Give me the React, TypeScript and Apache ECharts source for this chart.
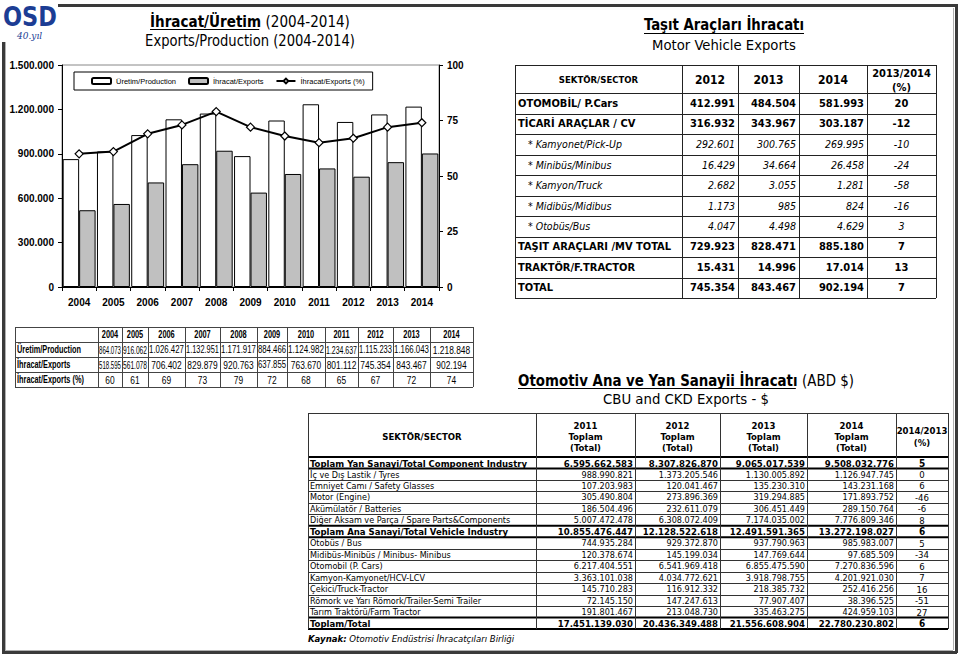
import React, { useEffect, useRef } from 'react';
import * as echarts from 'echarts';

// ---------- DATA ----------
const years = ['2004', '2005', '2006', '2007', '2008', '2009', '2010', '2011', '2012', '2013', '2014'];
const production = [864073, 916062, 1026427, 1132951, 1171917, 884466, 1124982, 1234637, 1115233, 1166043, 1218848];
const exportsVal = [518595, 561078, 706402, 829879, 920763, 637855, 763670, 801112, 745354, 843467, 902194];
const exportShare = [60, 61, 69, 73, 79, 72, 68, 65, 67, 72, 74];
const seriesNames = ['Üretim/Production', 'İhracat/Exports', 'İhracat/Exports (%)'];

const mvHeader = ['SEKTÖR/SECTOR', '2012', '2013', '2014', '2013/2014\n(%)'];
const mvLabels = ['OTOMOBİL/ P.Cars', 'TİCARİ ARAÇLAR / CV', '* Kamyonet/Pick-Up', '* Minibüs/Minibus', '* Kamyon/Truck', '* Midibüs/Midibus', '* Otobüs/Bus', 'TAŞIT ARAÇLARI /MV TOTAL', 'TRAKTÖR/F.TRACTOR', 'TOTAL'];
const mv2012 = [412991, 316932, 292601, 16429, 2682, 1173, 4047, 729923, 15431, 745354];
const mv2013 = [484504, 343967, 300765, 34664, 3055, 985, 4498, 828471, 14996, 843467];
const mv2014 = [581993, 303187, 269995, 26458, 1281, 824, 4629, 885180, 17014, 902194];
const mvChange = [20, -12, -10, -24, -58, -16, 3, 7, 13, 7];
const mvItalicRows = [2, 3, 4, 5, 6];

const cbuHeader = ['SEKTÖR/SECTOR', '2011\nToplam\n(Total)', '2012\nToplam\n(Total)', '2013\nToplam\n(Total)', '2014\nToplam\n(Total)', '2014/2013\n(%)'];
const cbuLabels = ['Toplam Yan Sanayi/Total Component Industry', 'İç ve Dış Lastik / Tyres', 'Emniyet Camı / Safety Glasses', 'Motor (Engine)', 'Akümülatör / Batteries', 'Diğer Aksam ve Parça / Spare Parts&Components', 'Toplam Ana Sanayi/Total Vehicle Industry', 'Otobüs / Bus', 'Midibüs-Minibüs / Minibus- Minibus', 'Otomobil (P. Cars)', 'Kamyon-Kamyonet/HCV-LCV', 'Çekici/Truck-Tractor', 'Römork ve Yarı Römork/Trailer-Semi Trailer', 'Tarım Traktörü/Farm Tractor', 'Toplam/Total'];
const cbu2011 = [6595662583, 988990821, 107203983, 305490804, 186504496, 5007472478, 10855476447, 744935284, 120378674, 6217404551, 3363101038, 145710283, 72145150, 191801467, 17451139030];
const cbu2012 = [8307826870, 1373205546, 120041467, 273896369, 232611079, 6308072409, 12128522618, 929372870, 145199034, 6541969418, 4034772621, 116912332, 147247613, 213048730, 20436349488];
const cbu2013 = [9065017539, 1130005892, 135230310, 319294885, 306451449, 7174035002, 12491591365, 937790963, 147769644, 6855475590, 3918798755, 218385732, 77907407, 335463275, 21556608904];
const cbu2014 = [9508032776, 1126947745, 143231168, 171893752, 289150764, 7776809346, 13272198027, 985983007, 97685509, 7270836596, 4201921030, 252416256, 38396525, 424959103, 22780230802];
const cbuChange = [5, 0, 6, -46, -6, 8, 6, 5, -34, 6, 7, 16, -51, 27, 6];
const cbuBoldRows = [0, 6, 14];

// ---------- HELPERS ----------
const SANS = "'DejaVu Sans Condensed', 'DejaVu Sans', sans-serif";
const ARIAL = "'Liberation Sans', Arial, sans-serif";

function fmt(n: number): string {
  const s = Math.abs(n).toString().replace(/\B(?=(\d{3})+(?!\d))/g, '.');
  return n < 0 ? '-' + s : s;
}

let mctx: any = null;
function measure(t: string, size: number, weight = 'normal', family = SANS, italic = false): number {
  if (!mctx) mctx = document.createElement('canvas').getContext('2d');
  mctx.font = `${italic ? 'italic ' : ''}${weight} ${size}px ${family}`;
  return mctx.measureText(t).width;
}

function T(t: string, x: number, y: number, size: number, o: any = {}) {
  const weight = o.weight || 'normal';
  const family = o.family || SANS;
  const align = o.align || 'left';
  return {
    type: 'text', silent: true, x, y, scaleX: o.sx || 1, scaleY: 1, z: 10,
    style: {
      text: t, fontSize: size, fontWeight: weight, fontFamily: family,
      fontStyle: o.italic ? 'italic' : 'normal', fill: o.color || '#000',
      align, verticalAlign: 'middle', textAlign: align, textVerticalAlign: 'middle',
    },
  };
}

function buildGraphics() {
  const g: any[] = [];
  const L = (x1: number, y1: number, x2: number, y2: number, w = 1, c = '#333') => {
    if (y1 === y2 && w % 2 === 1) { y1 = Math.round(y1) + 0.5; y2 = y1; }
    if (x1 === x2 && w % 2 === 1) { x1 = Math.round(x1) + 0.5; x2 = x1; }
    g.push({ type: 'line', silent: true, z: 9, shape: { x1, y1, x2, y2 }, style: { stroke: c, lineWidth: w } });
  };

  // frame
  L(58, 5, 957, 5, 3, '#3a3a3a');
  L(955.5, 4, 955.5, 653, 3, '#3a3a3a');
  L(2, 652, 957, 652, 3, '#3a3a3a');
  L(2.5, 42, 2.5, 653, 3, '#3a3a3a');
  L(5, 42, 5, 650, 1, '#b0b0b0');
  L(5, 650, 953, 650, 1, '#b0b0b0');
  L(953, 8, 953, 650, 1, '#b0b0b0');

  // logo
  const LOGOF = "'DejaVu Sans', sans-serif";
  const osdW = measure('OSD', 27, 'bold', LOGOF);
  g.push(T('OSD', 3, 17, 27, { weight: 'bold', family: LOGOF, color: '#1c3d94', sx: 54 / osdW }));
  g.push(T('40.yıl', 17, 36, 9, { italic: true, family: "'DejaVu Serif', serif", color: '#1c3d94' }));

  // composite title helper: bold underlined part + normal part, centered
  const title = (bold: string, rest: string, cx: number, y: number, size: number, target: number, uy: number) => {
    const wb = measure(bold, size, 'bold');
    const wr = rest ? measure(rest, size) : 0;
    const s = target / (wb + wr);
    const x0 = cx - target / 2;
    g.push(T(bold, x0, y, size, { weight: 'bold', sx: s }));
    if (rest) g.push(T(rest, x0 + wb * s, y, size, { sx: s }));
    L(x0, uy, x0 + wb * s - (rest ? 2 : 0), uy, 1, '#000');
  };
  const plain = (t: string, cx: number, y: number, size: number, target: number) => {
    const w = measure(t, size);
    g.push(T(t, cx, y, size, { align: 'center', sx: target / w }));
  };

  title('İhracat/Üretim', ' (2004-2014)', 250, 22, 15, 200, 29);
  plain('Exports/Production (2004-2014)', 250, 40, 15, 210);
  title('Taşıt Araçları İhracatı', '', 724, 25, 15, 160, 33);
  plain('Motor Vehicle Exports', 724, 45, 14, 144);
  title('Otomotiv Ana ve Yan Sanayii İhracatı', ' (ABD $)', 686, 381, 15, 336, 388);
  plain('CBU and CKD Exports - $', 686, 399, 14, 166);

  // ---- left data table ----
  const lc = [15, 98, 122, 148, 185, 220, 257, 287, 325, 358, 393, 430, 473];
  const lr = [327, 342, 357, 372, 387];
  lr.forEach((r) => L(lc[0], r, lc[lc.length - 1], r, 1, '#444'));
  lc.forEach((c) => L(c, lr[0], c, lr[lr.length - 1], 1, '#444'));
  const ySc = 16.5 / measure('2004', 10.5, 'bold', ARIAL);
  years.forEach((yr, i) => {
    g.push(T(yr, (lc[i + 1] + lc[i + 2]) / 2, (lr[0] + lr[1]) / 2 + 0.5, 10.5, { weight: 'bold', family: ARIAL, align: 'center', sx: ySc }));
  });
  const labSc = 67 / measure('İhracat/Exports (%)', 10.5, 'bold', ARIAL);
  const tRows = [production.map(fmt), exportsVal.map(fmt), exportShare.map(String)];
  seriesNames.forEach((lab, r) => {
    const cy = (lr[r + 1] + lr[r + 2]) / 2 + 0.5;
    g.push(T(lab, 17, cy, 10.5, { weight: 'bold', family: ARIAL, sx: labSc }));
    tRows[r].forEach((v, i) => {
      const w = lc[i + 2] - lc[i + 1];
      const nw = measure(v, 10.5, 'normal', ARIAL);
      const s = Math.min(0.8, (w - 2) / nw);
      g.push(T(v, (lc[i + 1] + lc[i + 2]) / 2, cy, 10.5, { family: ARIAL, align: 'center', sx: s }));
    });
  });

  // ---- motor vehicle table ----
  const rc = [515, 682, 738, 799, 867, 936];
  const rr = [65, 93];
  for (let i = 0; i < mvLabels.length; i++) rr.push(93 + (298 - 93) * (i + 1) / mvLabels.length);
  rr.forEach((r) => L(rc[0], r, rc[5], r, 1, '#222'));
  rc.forEach((c) => L(c, rr[0], c, rr[rr.length - 1], 1, '#222'));
  mvHeader.forEach((h, i) => {
    const cx = (rc[i] + rc[i + 1]) / 2;
    if (i === 0) g.push(T(h, cx, 79, 9.5, { weight: 'bold', align: 'center' }));
    else if (i < 4) g.push(T(h, cx, 79.5, 12, { weight: 'bold', align: 'center' }));
    else {
      const p = h.split('\n');
      g.push(T(p[0], cx, 73, 11, { weight: 'bold', align: 'center' }));
      g.push(T(p[1], cx, 87, 11, { weight: 'bold', align: 'center' }));
    }
  });
  mvLabels.forEach((lab, i) => {
    const cy = (rr[i + 1] + rr[i + 2]) / 2;
    const it = mvItalicRows.indexOf(i) >= 0;
    const o = it ? { italic: true } : { weight: 'bold' };
    const sz = it ? 10.5 : 11;
    g.push(T(lab, it ? rc[0] + 13 : rc[0] + 3, cy, sz, o));
    [mv2012[i], mv2013[i], mv2014[i]].forEach((v, k) => {
      g.push(T(fmt(v), rc[k + 2] - 3, cy, sz, { ...o, align: 'right' }));
    });
    g.push(T(String(mvChange[i]), (rc[4] + rc[5]) / 2, cy, sz, { ...o, align: 'center' }));
  });

  // ---- CBU/CKD table ----
  const bc = [308, 536, 635, 720, 807, 896, 948];
  const br = [413, 457];
  for (let i = 0; i < cbuLabels.length; i++) br.push(457 + (629 - 457) * (i + 1) / cbuLabels.length);
  br.forEach((r, i) => {
    const heavy = cbuBoldRows.some((b) => i === b + 1 || i === b + 2);
    L(bc[0], r, bc[6], r, heavy ? 2 : 1, heavy ? '#000' : '#333');
  });
  bc.forEach((c) => L(c, br[0], c, br[br.length - 1], 1, '#333'));
  cbuHeader.forEach((h, i) => {
    const cx = (bc[i] + bc[i + 1]) / 2;
    const p = h.split('\n');
    if (p.length === 1) g.push(T(h, cx, 436, 9.5, { weight: 'bold', align: 'center' }));
    else if (p.length === 3) p.forEach((s, k) => g.push(T(s, cx, 425 + k * 11, 9.5, { weight: 'bold', align: 'center' })));
    else p.forEach((s, k) => g.push(T(s, cx, 430 + k * 12, 9.5, { weight: 'bold', align: 'center' })));
  });
  cbuLabels.forEach((lab, i) => {
    const cy = (br[i + 1] + br[i + 2]) / 2 + 0.3;
    const b = cbuBoldRows.indexOf(i) >= 0;
    const o: any = b ? { weight: 'bold' } : {};
    const sz = b ? 9.5 : 9;
    g.push(T(lab, bc[0] + 2, cy, sz, o));
    [cbu2011[i], cbu2012[i], cbu2013[i], cbu2014[i]].forEach((v, k) => {
      g.push(T(fmt(v), bc[k + 2] - 2, cy, sz, { ...o, align: 'right' }));
    });
    g.push(T(String(cbuChange[i]), (bc[5] + bc[6]) / 2, cy, b ? 10 : 9.5, { ...o, align: 'center' }));
  });
  const kw = measure('Kaynak:', 9.5, 'bold', SANS, true);
  g.push(T('Kaynak:', 308, 638, 9.5, { weight: 'bold', italic: true }));
  g.push(T(' Otomotiv Endüstrisi İhracatçıları Birliği', 308 + kw, 638, 9.5, { italic: true }));

  return g;
}

export default function App() {
  const ref = useRef<HTMLDivElement>(null);
  useEffect(() => {
    if (!ref.current) return;
    const chart = echarts.init(ref.current, undefined, { renderer: 'svg' });
    const axisLab = { fontFamily: ARIAL, fontWeight: 'bold', fontSize: 10, color: '#000' };
    const option: any = {
      animation: false,
      backgroundColor: '#fff',
      textStyle: { fontFamily: SANS },
      legend: {
        left: 74, top: 72, padding: [5, 8, 5, 17], itemGap: 12, itemWidth: 19, itemHeight: 6,
        backgroundColor: '#fff', borderColor: '#000', borderWidth: 1,
        textStyle: { fontFamily: ARIAL, fontSize: 7.5, color: '#000' },
        data: seriesNames,
        selectedMode: false,
      },
      grid: { left: 62, top: 65, width: 377, height: 222, show: true, borderColor: '#888', borderWidth: 1, backgroundColor: 'transparent' },
      xAxis: {
        type: 'category', data: years,
        axisLine: { lineStyle: { color: '#000', width: 1 } },
        axisTick: { show: true, length: 4, lineStyle: { color: '#000' } },
        axisLabel: { ...axisLab, margin: 10, interval: 0 },
      },
      yAxis: [
        {
          type: 'value', min: 0, max: 1500000, interval: 300000,
          axisLine: { show: true, lineStyle: { color: '#000' } },
          axisTick: { show: true, length: 4, lineStyle: { color: '#000' } },
          splitLine: { show: false },
          axisLabel: { ...axisLab, margin: 8, formatter: (v: number) => fmt(v) },
        },
        {
          type: 'value', min: 0, max: 100, interval: 25, position: 'right',
          axisLine: { show: true, lineStyle: { color: '#000' } },
          axisTick: { show: true, length: 4, lineStyle: { color: '#000' } },
          splitLine: { show: false },
          axisLabel: { ...axisLab, margin: 8 },
        },
      ],
      series: [
        {
          name: seriesNames[0], type: 'bar', data: production, barGap: '0%', barCategoryGap: '4%',
          itemStyle: { color: '#ffffff', borderColor: '#000', borderWidth: 1 },
        },
        {
          name: seriesNames[1], type: 'bar', data: exportsVal,
          itemStyle: { color: '#c0c0c0', borderColor: '#000', borderWidth: 1 },
        },
        {
          name: seriesNames[2], type: 'line', yAxisIndex: 1, data: exportShare,
          symbol: 'diamond', symbolSize: 8, z: 5,
          lineStyle: { color: '#000', width: 2 },
          itemStyle: { color: '#fff', borderColor: '#000', borderWidth: 1.2 },
        },
      ],
      graphic: buildGraphics(),
    };
    chart.setOption(option);
    return () => chart.dispose();
  }, []);
  return <div ref={ref} style={{ position: 'absolute', left: 0, top: 0, width: 960, height: 655 }} />;
}
